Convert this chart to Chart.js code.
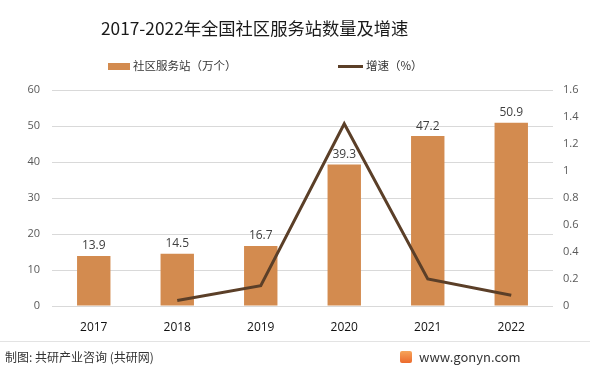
<!DOCTYPE html>
<html>
<head>
<meta charset="utf-8">
<script src="https://cdn.jsdelivr.net/npm/chart.js@4/dist/chart.umd.min.js"></script>
<style>
  body { margin: 0; background: #fff; }
  #wrap { position: relative; width: 598px; height: 374px; overflow: hidden;
    font-family: "Noto Sans CJK SC", "Open Sans", sans-serif; }
  #myChart { position: absolute; left: 0; top: 0; }
  .title { position: absolute; left: 101px; top: 15px; font-size: 17.3px; color: #1a1a1a; white-space: nowrap; line-height: 26px; }
  .leg { position: absolute; top: 56px; font-size: 11.5px; color: #333; white-space: nowrap; line-height: 18px; }
  .leg .box { display: inline-block; width: 22px; height: 7px; background: #d38b4f; vertical-align: middle; margin-right: 3px; }
  .leg .ln { display: inline-block; width: 25px; height: 3px; background: #5b3f28; vertical-align: middle; margin-right: 3px; }
  .sep { position: absolute; left: 0; top: 341px; width: 590px; height: 1px; background: #e3e3e3; }
  .foot { position: absolute; top: 349px; font-size: 12px; color: #333; white-space: nowrap; line-height: 16px; }
  .logo { display: inline-block; width: 12px; height: 12px; border-radius: 2px; background: linear-gradient(#f6a45a, #ec6a2c); vertical-align: -1px; margin-right: 7px; }
</style>
</head>
<body>
<div id="wrap">
  <canvas id="myChart" width="598" height="374"></canvas>
  <div class="title">2017-2022年全国社区服务站数量及增速</div>
  <div class="leg" style="left:108px"><span class="box"></span>社区服务站（万个）</div>
  <div class="leg" style="left:338px"><span class="ln"></span>增速（%）</div>
  <div class="sep"></div>
  <div class="foot" style="left:5px">制图: 共研产业咨询 (共研网)</div>
  <div class="foot" style="left:400px;font-size:13px"><span class="logo"></span>www.gonyn.com</div>
</div>
<script>
//CHART DATA
const years = ["2017", "2018", "2019", "2020", "2021", "2022"];
const stations = [13.9, 14.5, 16.7, 39.3, 47.2, 50.9];
const growth = [null, 0.04, 0.15, 1.35, 0.2, 0.08];

const barColor = "#d38b4f";
const lineColor = "#5b3f28";

//DRAW VALUE LABELS ABOVE THE BARS (BAR DATASET IS INDEX 1)
const barLabels = {
  id: "barLabels",
  afterDatasetsDraw(chart) {
    const ctx = chart.ctx;
    const meta = chart.getDatasetMeta(1);
    ctx.save();
    ctx.font = "12px 'Open Sans', 'Noto Sans CJK SC', sans-serif";
    ctx.fillStyle = "#404040";
    ctx.textAlign = "center";
    ctx.textBaseline = "bottom";
    meta.data.forEach((bar, i) => {
      ctx.fillText(stations[i].toFixed(1), bar.x, bar.y - 4);
    });
    ctx.restore();
  },
};

const chart = new Chart(document.getElementById("myChart"), {
  data: {
    labels: years,
    datasets: [
      {
        type: "line",
        label: "增速（%）",
        data: growth,
        yAxisID: "y1",
        borderColor: lineColor,
        borderWidth: 3,
        pointRadius: 0,
        tension: 0,
        order: 0,
      },
      {
        type: "bar",
        label: "社区服务站（万个）",
        data: stations,
        yAxisID: "y",
        backgroundColor: barColor,
        categoryPercentage: 1,
        barPercentage: 0.4,
        order: 1,
      },
    ],
  },
  plugins: [barLabels],
  options: {
    responsive: false,
    animation: false,
    layout: { padding: { left: 0, right: 0, top: 90, bottom: 38 } },
    plugins: {
      legend: { display: false },
      title: { display: false },
      tooltip: { enabled: false },
    },
    scales: {
      x: {
        grid: { display: false },
        border: { display: false },
        ticks: {
          color: "#111",
          font: { size: 12, family: "'Open Sans', sans-serif" },
          padding: 6,
        },
        afterFit(scale) { scale.height = 30; },
      },
      y: {
        position: "left",
        min: 0,
        max: 60,
        ticks: {
          stepSize: 10,
          color: "#595959",
          font: { size: 11, family: "'Open Sans', sans-serif" },
          padding: 12,
        },
        grid: { color: "#d9d9d9", drawTicks: false },
        border: { display: false },
        afterFit(scale) { scale.width = 52; },
      },
      y1: {
        position: "right",
        min: 0,
        max: 1.6,
        ticks: {
          stepSize: 0.2,
          color: "#595959",
          font: { size: 11, family: "'Open Sans', sans-serif" },
          padding: 10,
          callback: (v) => String(Number(v.toFixed(1))),
        },
        grid: { display: false, drawTicks: false },
        border: { display: false },
        afterFit(scale) { scale.width = 45; },
      },
    },
  },
});
</script>
</body>
</html>
